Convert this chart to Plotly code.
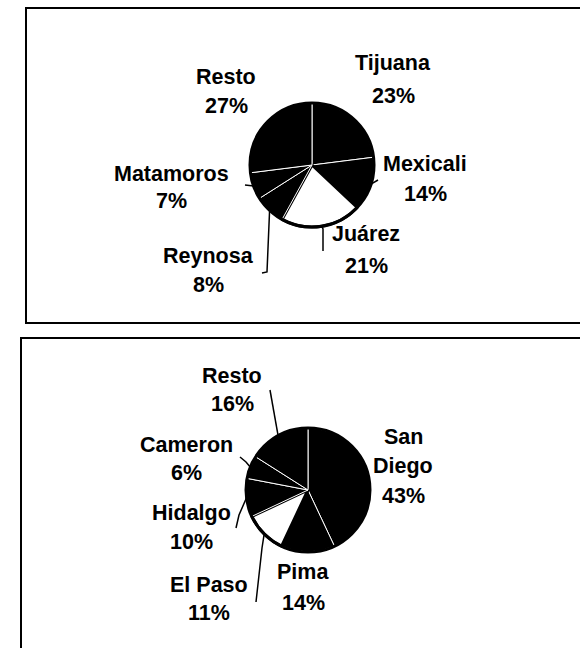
import math
import plotly.graph_objects as go

# data
top_labels = ["Tijuana", "Mexicali", "Juárez", "Reynosa", "Matamoros", "Resto"]
top_values = [23, 14, 21, 8, 7, 27]
top_colors = ["black", "black", "white", "black", "black", "black"]

bot_labels = ["San Diego", "Pima", "El Paso", "Hidalgo", "Cameron", "Resto"]
bot_values = [43, 14, 11, 10, 6, 16]
bot_colors = ["black", "black", "white", "black", "black", "black"]

W, H = 580, 648
FONT = "Liberation Sans, Arial, sans-serif"

# pie geometry in pixels (center x, center y, radius)
top_pie = (312, 165, 62)
bot_pie = (308, 490, 62)

# label placement: x, y of each text line, then leader line points after the slice point
top_place = {
    "Tijuana": (393, [63, 96], []),
    "Mexicali": (425, [164, 194], [(378, 180)]),
    "Juárez": (366, [234, 266], [(323, 229), (323, 251)]),
    "Reynosa": (208, [256, 285], [(267, 272), (262, 273)]),
    "Matamoros": (171, [174, 201], [(245, 185)]),
    "Resto": (226, [77, 106], []),
}
bot_place = {
    "San Diego": (403, [437, 466, 496], []),
    "Pima": (303, [572, 603], []),
    "El Paso": (209, [585, 613], [(262, 548), (256, 602)]),
    "Hidalgo": (191, [513, 542], [(239, 515), (236, 528)]),
    "Cameron": (186, [445, 473], [(246, 462), (240, 457)]),
    "Resto": (232, [376, 404], [(270, 390)]),
}
split_names = {"San Diego": ["San", "Diego"]}


def dom(pie):
    cx, cy, r = pie
    return dict(x=[(cx - r) / W, (cx + r) / W], y=[1 - (cy + r) / H, 1 - (cy - r) / H])


fig = go.Figure()

annotations = []
shapes = [
    dict(type="rect", xref="x", yref="y", x0=26, y0=8, x1=590, y1=323,
         line=dict(color="black", width=2)),
    dict(type="rect", xref="x", yref="y", x0=21, y0=338, x1=590, y1=660,
         line=dict(color="black", width=2)),
]

for labels, values, colors, pie, place in [
    (top_labels, top_values, top_colors, top_pie, top_place),
    (bot_labels, bot_values, bot_colors, bot_pie, bot_place),
]:
    line_colors = ["black" if c == "white" else "white" for c in colors]
    line_widths = [3 if c == "white" else 1 for c in colors]
    fig.add_trace(go.Pie(labels=labels, values=values, sort=False, direction="clockwise",
                         rotation=0, textinfo="none", hoverinfo="label+percent",
                         marker=dict(colors=colors, line=dict(color=line_colors, width=line_widths)),
                         domain=dom(pie), showlegend=False))
    # outer black rim
    fig.add_trace(go.Pie(values=[1], textinfo="none", hoverinfo="skip", sort=False,
                         marker=dict(colors=["rgba(0,0,0,0)"], line=dict(color="black", width=3)),
                         domain=dom(pie), showlegend=False))

    cx, cy, r = pie
    total = sum(values)
    acc = 0
    for lab, v in zip(labels, values):
        mid = (acc + v / 2) / total * 2 * math.pi
        acc += v
        x, ys, pts = place[lab]
        lines = split_names.get(lab, [lab]) + [f"{v}%"]
        for txt, y in zip(lines, ys):
            annotations.append(dict(x=x, y=y, xref="x", yref="y", text=f"<b>{txt}</b>",
                                    showarrow=False, xanchor="center", yanchor="middle",
                                    font=dict(family=FONT, size=21.5, color="black")))
        if pts:
            sx = cx + r * math.sin(mid)
            sy = cy - r * math.cos(mid)
            path = f"M {sx:.1f} {sy:.1f} " + " ".join(f"L {px} {py}" for px, py in pts)
            shapes.append(dict(type="path", xref="x", yref="y", path=path,
                               line=dict(color="black", width=1.5)))

fig.update_layout(
    width=W, height=H,
    margin=dict(l=0, r=0, t=0, b=0),
    paper_bgcolor="white", plot_bgcolor="rgba(0,0,0,0)",
    xaxis=dict(range=[0, W], visible=False, fixedrange=True),
    yaxis=dict(range=[H, 0], visible=False, fixedrange=True),
    annotations=annotations,
    shapes=shapes,
)

# drop the browser's default page margin so the figure sits at 0,0
fig.write_html("out.html", config={"displayModeBar": False},
               post_script="document.body.style.margin='0';document.body.style.overflow='hidden';")
